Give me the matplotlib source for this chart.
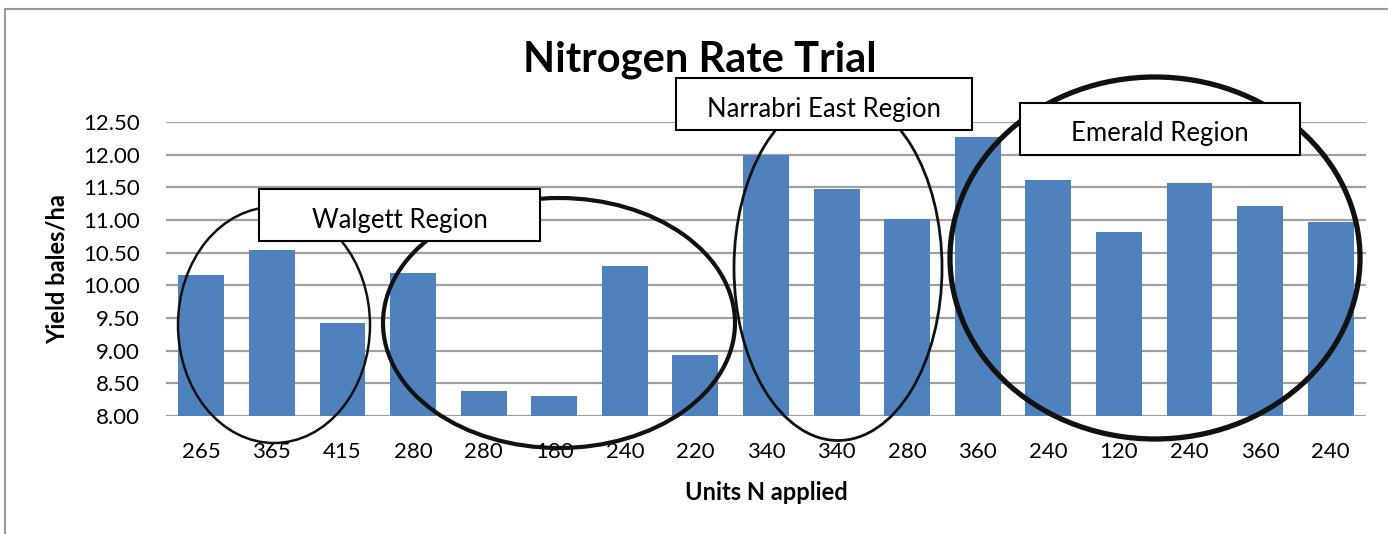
import matplotlib
matplotlib.use("Agg")
import matplotlib.pyplot as plt
from matplotlib.patches import Ellipse, Rectangle
from matplotlib.lines import Line2D

plt.rcParams['font.family'] = ['Lato', 'DejaVu Sans']

n_applied = ["265", "365", "415", "280", "280", "180", "240", "220", "340",
             "340", "280", "360", "240", "120", "240", "360", "240"]
yield_bales = [10.16, 10.54, 9.42, 10.19, 8.38, 8.30, 10.29, 8.93, 12.00,
               11.48, 11.01, 12.27, 11.61, 10.81, 11.57, 11.21, 10.97]
y_ticks = [8.00, 8.50, 9.00, 9.50, 10.00, 10.50, 11.00, 11.50, 12.00, 12.50]
regions = ["Walgett Region", "Narrabri East Region", "Emerald Region"]

W, H = 1388, 534
fig = plt.figure(figsize=(W / 100, H / 100), dpi=100)
ax = fig.add_axes([166 / W, 1 - 416 / H, 1200 / W, 294 / H])

x = list(range(len(yield_bales)))
ax.bar(x, [v - 8 for v in yield_bales], bottom=8, width=0.65, color="#4F81BD", zorder=3)
ax.set_xlim(-0.5, len(x) - 0.5)
ax.set_ylim(y_ticks[0], y_ticks[-1])
ax.set_yticks(y_ticks)
ax.set_yticklabels([f"{t:.2f}" for t in y_ticks], fontsize=16)
ax.set_xticks(x)
ax.set_xticklabels(n_applied, fontsize=16)
ax.tick_params(axis='both', length=0)
ax.tick_params(axis='x', pad=19)
ax.tick_params(axis='y', pad=19)
ax.yaxis.grid(True, color="#a0a0a0", linewidth=1.6, zorder=0)
for s in ax.spines.values():
    s.set_visible(False)

# overlay in pixel coordinates
ov = fig.add_axes([0, 0, 1, 1])
ov.set_xlim(0, W)
ov.set_ylim(H, 0)
ov.axis('off')

ov.add_line(Line2D([5, W], [9, 9], color="#9a9a9a", lw=1.5))
ov.add_line(Line2D([5, 5], [9, H], color="#9a9a9a", lw=1.5))

ov.text(700, 60, "Nitrogen Rate Trial", fontsize=30, fontweight='bold',
        ha='center', va='center')
ov.text(766, 492, "Units N applied", fontsize=17, fontweight='bold',
        ha='center', va='center')
ov.text(57, 269, "Yield bales/ha", fontsize=17, fontweight='bold',
        ha='center', va='center', rotation=90)

ellipses = [((274, 325), 192, 236, 1.8),
            ((559, 323), 352, 250, 3.0),
            ((838, 268), 208, 345, 2.0),
            ((1155, 258), 410, 362, 3.8)]
for (c, w, h, lw) in ellipses:
    ov.add_patch(Ellipse(c, w, h, fill=False, edgecolor="#111111", lw=lw, zorder=5))

boxes = [(259, 189, 281, 52, 228),
         (676, 78, 296, 52, 117),
         (1020, 103, 280, 52, 141)]
for (bx, by, bw, bh, ty), label in zip(boxes, regions):
    ov.add_patch(Rectangle((bx, by), bw, bh, facecolor="white",
                           edgecolor="black", lw=1.5, zorder=6))
    ov.text(bx + bw / 2, ty, label, fontsize=18.5, ha='center', va='baseline', zorder=7)

fig.savefig("out.png", dpi=100)
